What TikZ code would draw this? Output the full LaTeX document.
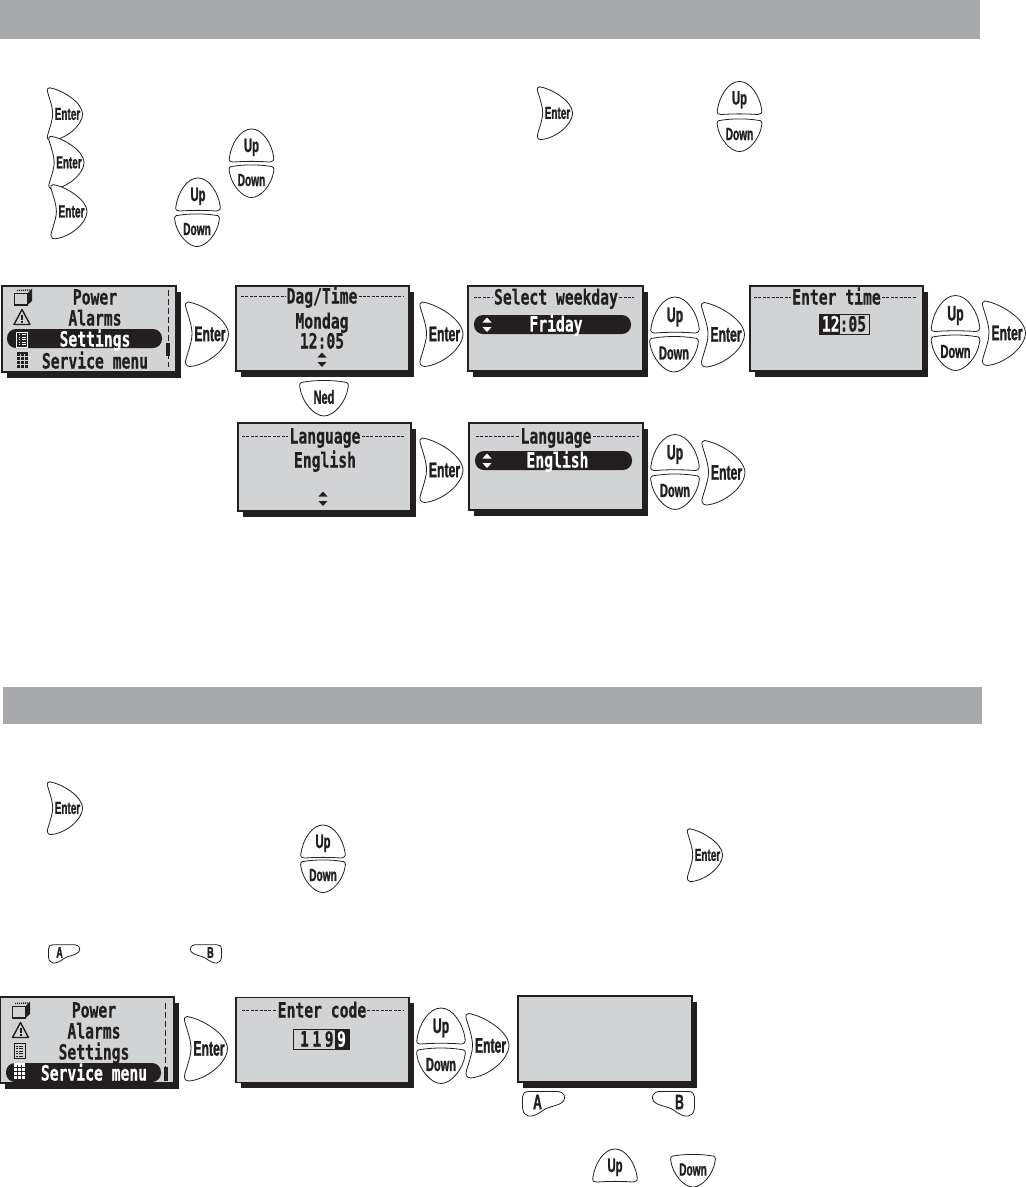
\documentclass[tikz,border=0pt]{standalone}
\usepackage{fontspec}
\newfontfamily\keyfont[FakeStretch=0.58, FakeBold=1.2]{Liberation Sans}
\newfontfamily\lcdfont[FakeStretch=0.7, FakeBold=0.4]{DejaVu Sans Mono}
\definecolor{ink}{HTML}{231f20}
\definecolor{lcd}{HTML}{d1d3d4}
\definecolor{band}{HTML}{a7a9ac}
\usetikzlibrary{positioning, calc, shadows}

\begin{document}
\begin{tikzpicture}[
  x=1pt, y=-1pt,
  bar/.style={rectangle, fill=band, inner sep=0pt},
  screen/.style={rectangle, draw=ink, fill=lcd, line width=1.2pt, inner sep=0pt,
    minimum width=173pt, minimum height=85pt,
    drop shadow={shadow xshift=4.5pt, shadow yshift=-5.5pt, fill=ink, opacity=1}},
  lcdtext/.style={text=ink, inner sep=0pt, text height=15pt, text depth=0pt,
    font=\lcdfont\bfseries\fontsize{21}{21}\selectfont},
  lcdwhite/.style={lcdtext, text=white},
  lcdtitle/.style={lcdtext, fill=lcd, inner xsep=1pt},
  titlerule/.style={ink, line width=.8pt, dash pattern=on 3pt off 1.4pt},
  pill/.style={rectangle, fill=ink, rounded corners=9pt, inner sep=0pt, minimum height=19pt},
  keyline/.style={draw=ink, fill=white, line width=.8pt},
  keytext/.style={text=ink, inner sep=0pt, transform shape,
    font=\keyfont\bfseries\fontsize{21}{21}\selectfont},
  pics/enterkey/.style={code={
    \path[keyline] (-19,-32) .. controls (-5,-30) and (21,-15) .. (21.5,0)
      .. controls (21,15) and (0,31) .. (-17,32.5)
      .. controls (-21,32.5) and (-22.5,29) .. (-21,25)
      .. controls (-17,12) and (-15,6) .. (-15,0)
      .. controls (-15,-8) and (-18,-16) .. (-21,-26)
      .. controls (-22.5,-30) and (-21,-32) .. (-19,-32) -- cycle;
    \node[keytext] (-t) at (3,0) {Enter};
  }},
  pics/upkey/.style={code={
    \path[keyline] (-24,13) .. controls (-22,-2) and (-12,-18) .. (0,-18)
      .. controls (12,-18) and (22,-2) .. (24,12)
      .. controls (25,16) and (23,18) .. (20,18)
      .. controls (8,17) and (-8,17) .. (-20,18)
      .. controls (-23,18) and (-25,17) .. (-24,13) -- cycle;
    \node[keytext] (-t) at (0,2) {Up};
  }},
  pics/downkey/.style={code={
    \path[keyline] (-20,-16) .. controls (-8,-18) and (8,-18) .. (20,-16)
      .. controls (24,-16) and (25,-14) .. (24,-10)
      .. controls (22,4) and (10,18) .. (0,18)
      .. controls (-10,18) and (-22,4) .. (-24,-10)
      .. controls (-25,-14) and (-24,-16) .. (-20,-16) -- cycle;
    \node[keytext, font=\keyfont\bfseries\fontsize{19}{19}\selectfont] (-t) at (0,-1) {#1};
  }},
  pics/softkey/.style 2 args={code={
    \path[keyline, xscale=#1] (-15,-12.5) -- (15,-12.5)
      .. controls (20,-12) and (23,-7) .. (20,-3)
      .. controls (16,2) and (6,2) .. (0,6)
      .. controls (-5,10) and (-11,13) .. (-15,12)
      .. controls (-20,10) and (-21,7) .. (-21,4) -- (-21,-7)
      .. controls (-21,-10) and (-19,-12.5) .. (-15,-12.5) -- cycle;
    \node[keytext] (-t) at ({#1*-6},-2) {#2};
  }},
  pics/updown/.style={code={
    \fill[#1] (-4.5,-2) -- (4.5,-2) -- (0,-7) -- cycle;
    \fill[#1] (-4.5,2.5) -- (4.5,2.5) -- (0,7.5) -- cycle;
  }},
  pics/cubeicon/.style={code={
    \draw[ink, line width=1.4pt] (-8.5,-3.5) rectangle (4.5,8);
    \fill[ink] (4.5,-3.5) -- (9,-8.5) -- (9,4) -- (4.5,8) -- cycle;
    \draw[ink, line width=1.4pt, dash pattern=on 1pt off 1pt] (-6,-6.5) -- (7,-7);
  }},
  pics/alarmicon/.style={code={
    \draw[ink, line width=1.4pt, line join=round] (0,-7.5) -- (8,7.5) -- (-8,7.5) -- cycle;
    \fill[ink] (-1,-2.5) rectangle (1,2.5);
    \fill[ink] (-1,3.5) rectangle (1,5.5);
  }},
  pics/listicon/.style={code={
    \draw[#1, line width=1pt] (-5.5,-7.5) rectangle (5.5,7.5);
    \foreach \yy in {-5,-2.5,0,2.5,5} {
      \draw[#1, line width=1pt] (-3.5,\yy) -- (-2,\yy) (-.5,\yy) -- (3.5,\yy);
    }
  }},
  pics/calcicon/.style={code={
    \fill[#1] (-5.5,-8.5) rectangle (5.5,-6.5);
    \foreach \yy in {-4.5,-.5,3.5,7.5} {
      \foreach \xx in {-5.5,-1.5,2.5} {
        \fill[#1] (\xx,\yy) rectangle +(3,-3);
      }
    }
  }},
]
  \useasboundingbox (0,0) rectangle (1026,1187);

  % Section bars
  \node[bar, minimum width=980pt, minimum height=39pt] (barTop) at (490,19.5) {};
  \node[bar, minimum width=979pt, minimum height=37pt] (barService) at (492.5,705.5) {};

  % Instruction keys, first section
  \pic[scale=.82] (insEnterA) at (65,114) {enterkey};
  \pic[scale=.82] (insEnterB) at (66.5,162.5) {enterkey};
  \pic[scale=.84] (insEnterC) at (69,211.5) {enterkey};
  \pic[scale=.82] (insEnterD) at (555,113) {enterkey};
  \pic[scale=.92] (insUpA) at (251.5,145.5) {upkey};
  \pic[scale=.92] (insDownA) at (251.5,181) {downkey=Down};
  \pic[scale=.92] (insUpB) at (198,194.5) {upkey};
  \pic[scale=.92] (insDownB) at (197,230) {downkey=Down};
  \pic[scale=.92] (insUpC) at (739.5,98) {upkey};
  \pic[scale=.92] (insDownC) at (739.5,135) {downkey=Down};

  % Menu screen
  \node[screen, minimum width=174pt, minimum height=86pt] (scrMenuA) at (89,329) {};
  \node[pill, minimum width=155pt] (pillMenuA) at (84.5,338.5) {};
  \node[lcdtext] (powerA) at (95,297) {Power};
  \node[lcdtext] (alarmsA) at (95,318) {Alarms};
  \node[lcdwhite] (settingsA) at (95,339) {Settings};
  \node[lcdtext] (serviceA) at (95,361) {Service menu};
  \pic (cubeA) at (23,297) {cubeicon};
  \pic (alarmA) at (22,317) {alarmicon};
  \pic (listA) at (22,339.5) {listicon=white};
  \pic (calcA) at (22,360) {calcicon=ink};
  \draw[ink, line width=.8pt, dash pattern=on 6pt off 3pt] (168,290) -- (168,367);
  \fill[ink] (166.3,343) rectangle (169.7,356);

  % Time screen
  \node[screen] (scrTime) at (322.5,328.5) {};
  \node[lcdtitle] (titleTime) at (322,296) {Dag/Time};
  \draw[titlerule] (241,296) -- (titleTime.west) (titleTime.east) -- (403,296);
  \node[lcdtext] (mondag) at (322,321) {Mondag};
  \node[lcdtext] (clockA) at (322,341) {12:05};
  \pic (arrowsTime) at (322,359.5) {updown=ink};

  % Weekday screen
  \node[screen, minimum width=175pt] (scrWeekday) at (555.5,328.5) {};
  \node[lcdtitle] (titleWeekday) at (556,297) {Select weekday};
  \draw[titlerule] (474,297) -- (titleWeekday.west) (titleWeekday.east) -- (634,297);
  \node[pill, minimum width=157pt] (pillWeekday) at (552.5,324.5) {};
  \node[lcdwhite] (friday) at (556,324) {Friday};
  \pic (arrowsWeekday) at (487,324.5) {updown=white};

  % Clock screen
  \node[screen] (scrClock) at (836.5,328.5) {};
  \node[lcdtitle] (titleClock) at (836.5,297) {Enter time};
  \draw[titlerule] (754,297) -- (titleClock.west) (titleClock.east) -- (917,297);
  \node[rectangle, draw=ink, line width=.7pt, inner sep=0pt, minimum width=50pt, minimum height=20pt] (fieldClock) at (844,324) {};
  \fill[ink] (fieldClock.north west) rectangle (840,334);
  \node[lcdtext] (clockB) at (fieldClock) {\textcolor{white}{12}:05};

  % Language screens
  \node[screen, minimum height=88pt] (scrLang) at (324.5,467) {};
  \node[lcdtitle] (titleLang) at (325,436) {Language};
  \draw[titlerule] (242,436) -- (titleLang.west) (titleLang.east) -- (405,436);
  \node[lcdtext] (englishA) at (325,460) {English};
  \pic (arrowsLang) at (323,498.5) {updown=ink};
  \node[screen, minimum width=174pt, minimum height=87pt] (scrLangSel) at (556,466.5) {};
  \node[lcdtitle] (titleLangSel) at (556,436) {Language};
  \draw[titlerule] (476,436) -- (titleLangSel.west) (titleLangSel.east) -- (639,436);
  \node[pill, minimum width=157pt] (pillLang) at (553.5,460.5) {};
  \node[lcdwhite] (englishB) at (557.5,460) {English};
  \pic (arrowsLangSel) at (487,460.5) {updown=white};

  % Keys between the screens
  \pic (enterA) at (207,334) {enterkey};
  \pic (enterB) at (441.5,334) {enterkey};
  \pic (upA) at (675,315) {upkey};
  \pic (downA) at (674,354) {downkey=Down};
  \pic (enterC) at (723,334.5) {enterkey};
  \pic (upB) at (955.5,313.5) {upkey};
  \pic (downB) at (955.5,352.5) {downkey=Down};
  \pic (enterD) at (1004,333) {enterkey};
  \pic (nedKey) at (324,398) {downkey=Ned};
  \pic (enterE) at (441.5,470) {enterkey};
  \pic (upC) at (675,452.5) {upkey};
  \pic (downC) at (675,491.5) {downkey=Down};
  \pic (enterF) at (723.5,472.5) {enterkey};

  % Instruction keys, second section
  \pic[scale=.82] (insEnterE) at (65,808) {enterkey};
  \pic[scale=.92] (insUpD) at (323,841.5) {upkey};
  \pic[scale=.92] (insDownD) at (323,876) {downkey=Down};
  \pic[scale=.82] (insEnterF) at (705,855) {enterkey};
  \pic[scale=.74] (insKeyA) at (64,954) {softkey={1}{A}};
  \pic[scale=.74] (insKeyB) at (206,954) {softkey={-1}{B}};

  % Service menu screen
  \node[screen, minimum width=174pt, minimum height=86pt] (scrMenuB) at (87,1040) {};
  \node[pill, minimum width=155pt] (pillMenuB) at (83.5,1072.5) {};
  \node[lcdtext] (powerB) at (94,1010) {Power};
  \node[lcdtext] (alarmsB) at (94,1031) {Alarms};
  \node[lcdtext] (settingsB) at (94,1052) {Settings};
  \node[lcdwhite] (serviceB) at (94,1073) {Service menu};
  \pic (cubeB) at (21,1010) {cubeicon};
  \pic (alarmB) at (20.5,1030) {alarmicon};
  \pic (listB) at (19.5,1051) {listicon=ink};
  \pic (calcB) at (19.5,1071.5) {calcicon=white};
  \draw[ink, line width=.8pt, dash pattern=on 6pt off 3pt] (165.5,1003) -- (165.5,1080);
  \fill[ink] (164,1067) rectangle (167.5,1081);

  % Code screen
  \node[screen] (scrCode) at (322.5,1040) {};
  \node[lcdtitle] (titleCode) at (322,1010) {Enter code};
  \draw[titlerule] (242,1010) -- (titleCode.west) (titleCode.east) -- (404,1010);
  \node[rectangle, draw=ink, line width=.7pt, inner sep=0pt, minimum width=56pt, minimum height=20pt] (fieldCode) at (321,1039) {};
  \fill[ink] (335,1029) rectangle (fieldCode.south east);
  \node[lcdtext] (codeDigits) at (323,1039) {1\hspace{3.5pt}1\hspace{3.5pt}9\hspace{3.5pt}\textcolor{white}{9}};

  % Blank screen
  \node[screen, minimum width=174pt, minimum height=86pt] (scrBlank) at (605,1039) {};

  % Keys of the last row
  \pic (enterG) at (206,1048.5) {enterkey};
  \pic (upD) at (441,1026) {upkey};
  \pic (downD) at (441,1065.5) {downkey=Down};
  \pic (enterH) at (487.5,1045.5) {enterkey};
  \pic[scale=1] (softA) at (543.5,1104) {softkey={1}{A}};
  \pic[scale=1] (softB) at (673.5,1104) {softkey={-1}{B}};
  \pic[scale=.92] (upE) at (615,1165.5) {upkey};
  \pic[scale=.92] (downE) at (693,1170.5) {downkey=Down};
\end{tikzpicture}
\end{document}
